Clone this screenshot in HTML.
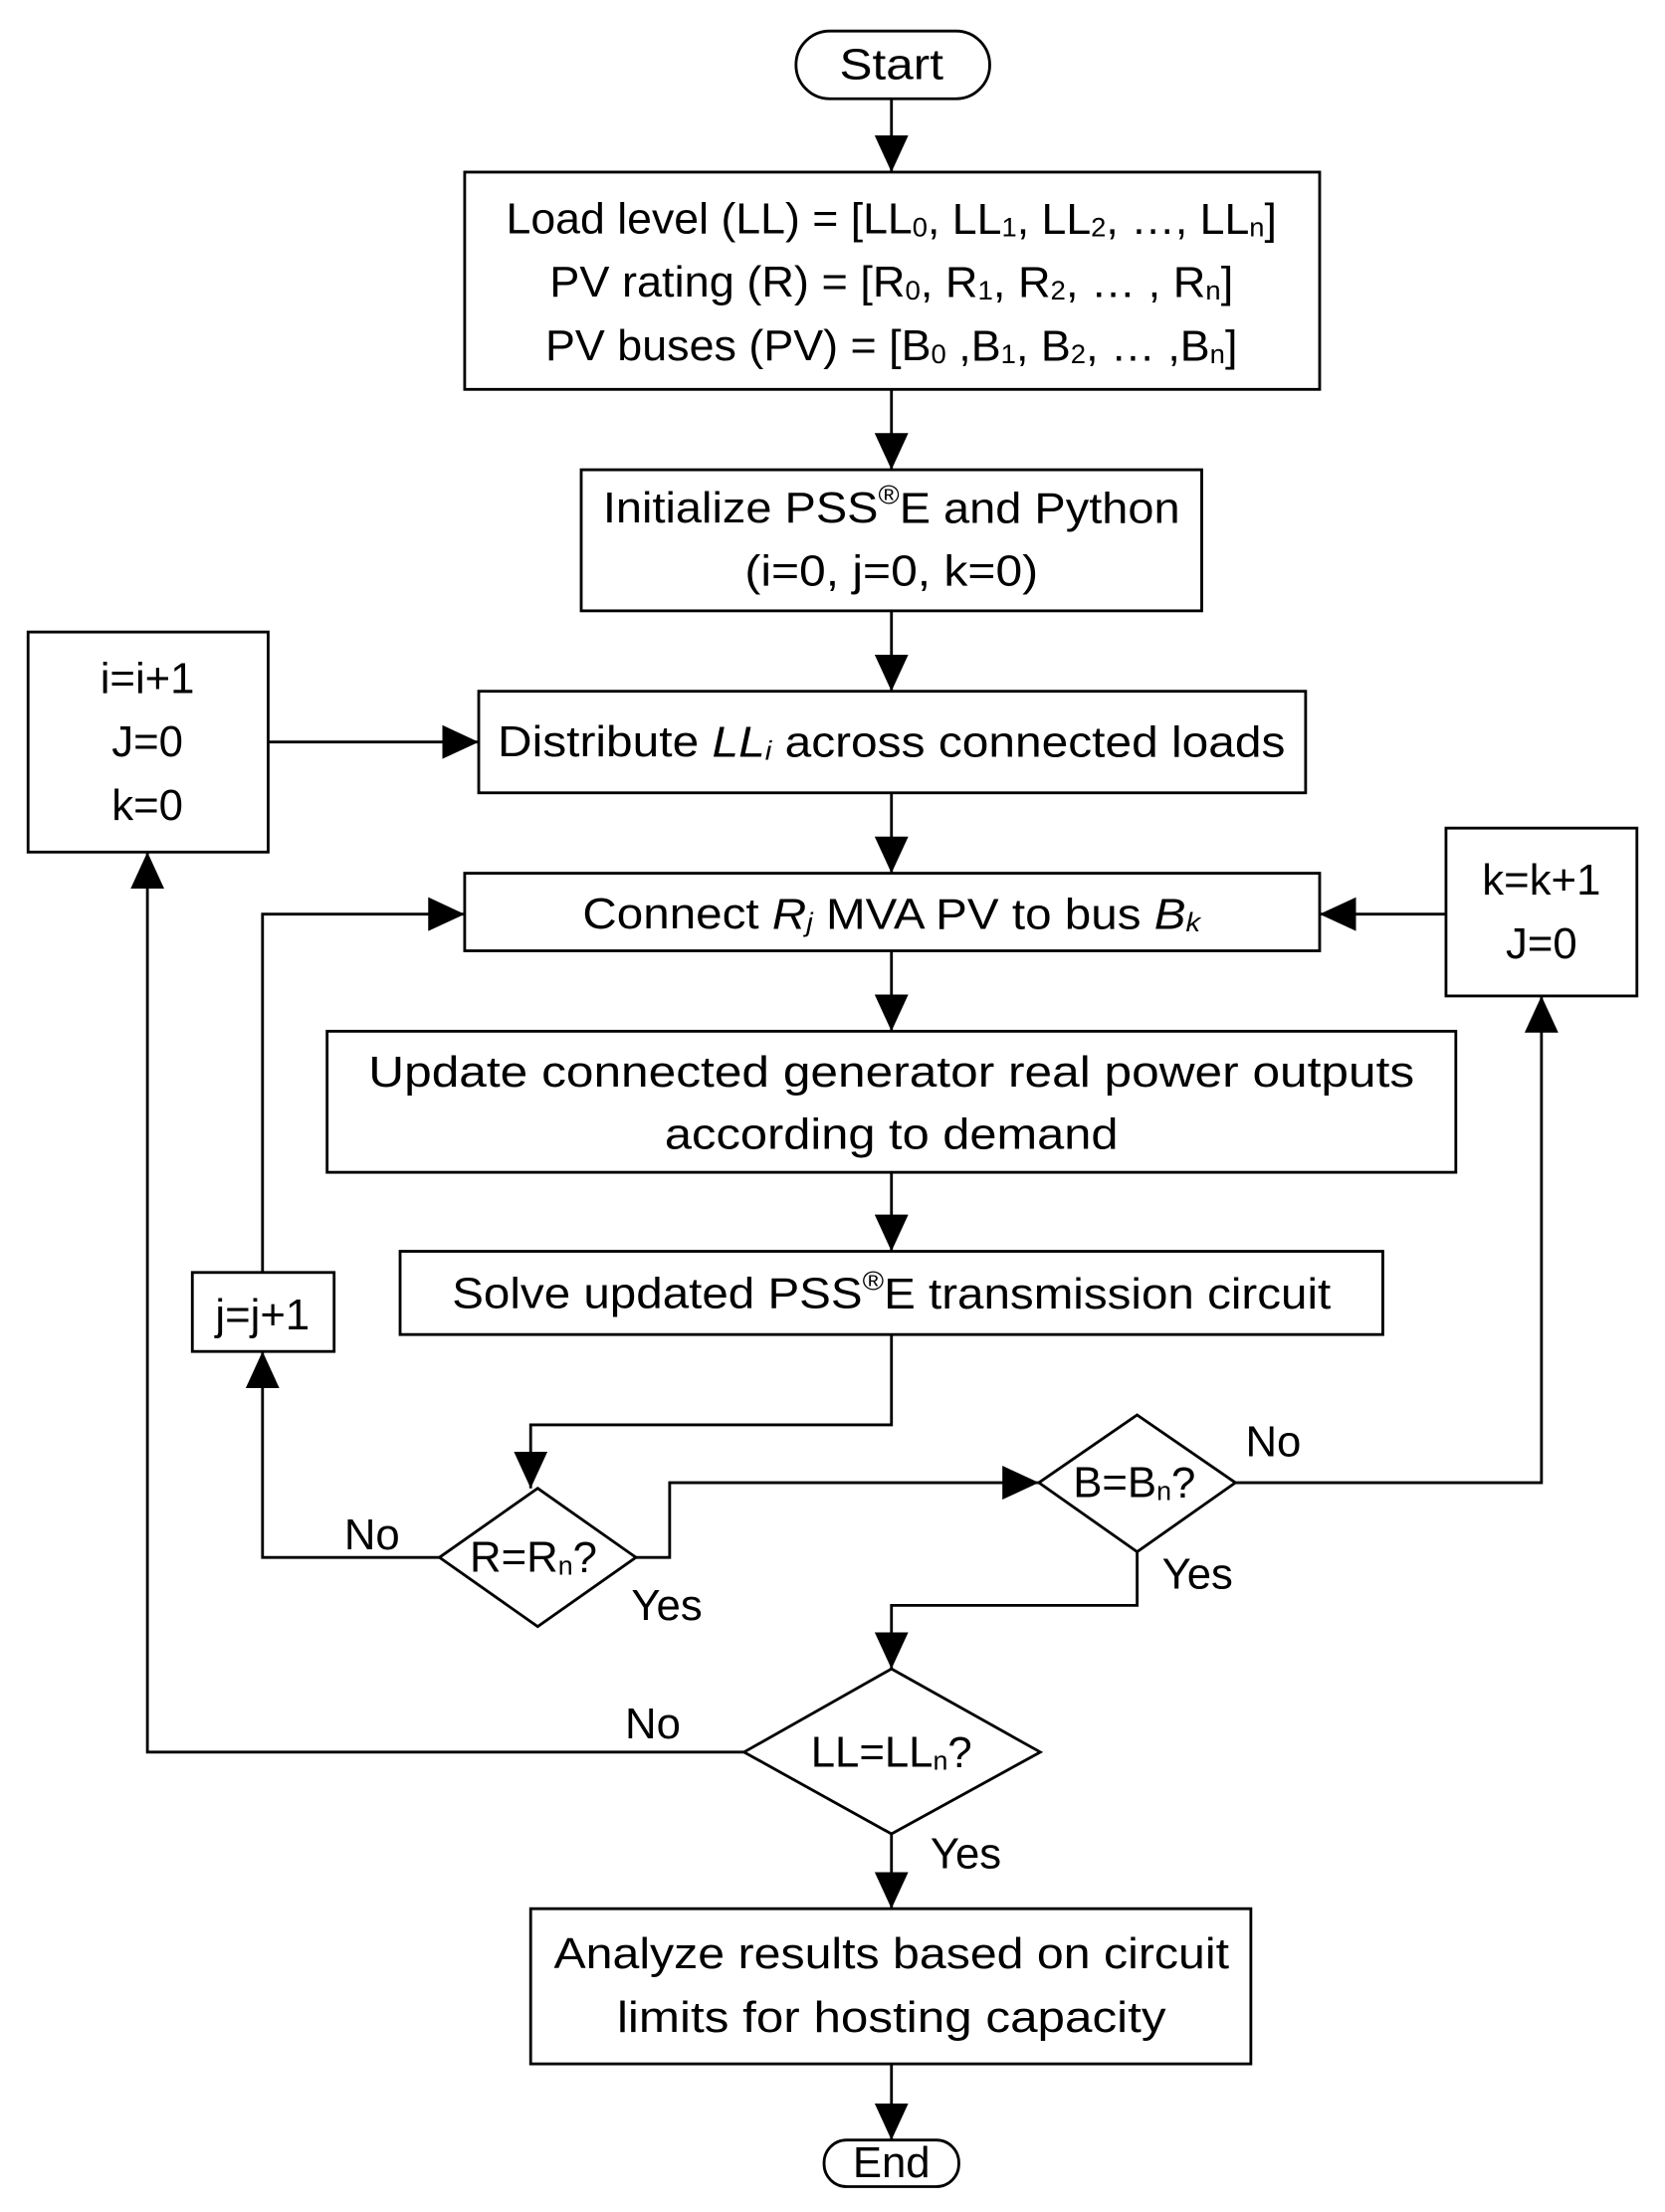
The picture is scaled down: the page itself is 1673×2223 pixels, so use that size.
<!DOCTYPE html>
<html><head><meta charset="utf-8"><style>
html,body{margin:0;padding:0;background:#fff}
svg{display:block}
text{font-family:"Liberation Sans",sans-serif;font-size:31px;fill:#000;text-anchor:middle;dominant-baseline:central}
.s{font-size:19px}
</style></head><body>
<svg width="1673" height="2223" viewBox="0 0 1186 1568" preserveAspectRatio="none" xmlns="http://www.w3.org/2000/svg">
<defs><marker id="a" markerWidth="26" markerHeight="24" refX="26" refY="12" orient="auto" markerUnits="userSpaceOnUse"><path d="M0,0 L26,12 L0,24 z" fill="#000"/></marker></defs>
<g fill="none" stroke="#000" stroke-width="2">
<rect x="567" y="22" width="138" height="48" rx="24"/>
<rect x="331" y="122" width="609" height="154"/>
<rect x="414" y="333" width="442" height="100"/>
<rect x="341" y="490" width="589" height="72"/>
<rect x="20" y="448" width="171" height="156"/>
<rect x="331" y="619" width="609" height="55"/>
<rect x="1030" y="587" width="136" height="119"/>
<rect x="233" y="731" width="804" height="100"/>
<rect x="285" y="887" width="700" height="59"/>
<rect x="137" y="902" width="101" height="56"/>
<polygon points="383,1055 453,1104 383,1153 313,1104"/>
<polygon points="810,1003 880,1051 810,1100 740,1051"/>
<polygon points="635,1183 741,1242 635,1300 530,1242"/>
<rect x="378" y="1353" width="513" height="110"/>
<rect x="587" y="1517" width="96" height="33" rx="16"/>
<g marker-end="url(#a)">
<line x1="635" y1="70" x2="635" y2="122"/>
<line x1="635" y1="276" x2="635" y2="333"/>
<line x1="635" y1="433" x2="635" y2="490"/>
<line x1="191" y1="526" x2="341" y2="526"/>
<line x1="635" y1="562" x2="635" y2="619"/>
<line x1="1030" y1="648" x2="940" y2="648"/>
<line x1="635" y1="674" x2="635" y2="731"/>
<line x1="635" y1="831" x2="635" y2="887"/>
<polyline points="187,902 187,648 331,648"/>
<polyline points="635,946 635,1010 378,1010 378,1055"/>
<polyline points="313,1104 187,1104 187,958"/>
<polyline points="453,1104 477,1104 477,1051 740,1051"/>
<polyline points="880,1051 1098,1051 1098,706"/>
<polyline points="810,1100 810,1138 635,1138 635,1183"/>
<polyline points="530,1242 105,1242 105,604"/>
<line x1="635" y1="1300" x2="635" y2="1353"/>
<line x1="635" y1="1463" x2="635" y2="1517"/>
</g></g>
<text x="635" y="46" textLength="74" lengthAdjust="spacingAndGlyphs">Start</text>
<text x="635" y="155" textLength="549" lengthAdjust="spacingAndGlyphs">Load level (LL) = [LL<tspan class="s" dy="6">0</tspan><tspan dy="-6">, LL</tspan><tspan class="s" dy="6">1</tspan><tspan dy="-6">, LL</tspan><tspan class="s" dy="6">2</tspan><tspan dy="-6">, …, LL</tspan><tspan class="s" dy="6">n</tspan><tspan dy="-6">]</tspan></text>
<text x="635" y="200" textLength="487" lengthAdjust="spacingAndGlyphs">PV rating (R) = [R<tspan class="s" dy="6">0</tspan><tspan dy="-6">, R</tspan><tspan class="s" dy="6">1</tspan><tspan dy="-6">, R</tspan><tspan class="s" dy="6">2</tspan><tspan dy="-6">, … , R</tspan><tspan class="s" dy="6">n</tspan><tspan dy="-6">]</tspan></text>
<text x="635" y="245" textLength="493" lengthAdjust="spacingAndGlyphs">PV buses (PV) = [B<tspan class="s" dy="6">0</tspan><tspan dy="-6"> ,B</tspan><tspan class="s" dy="6">1</tspan><tspan dy="-6">, B</tspan><tspan class="s" dy="6">2</tspan><tspan dy="-6">, … ,B</tspan><tspan class="s" dy="6">n</tspan><tspan dy="-6">]</tspan></text>
<text x="635" y="360" textLength="411" lengthAdjust="spacingAndGlyphs">Initialize PSS<tspan class="s" dy="-9">®</tspan><tspan dy="9">E and Python</tspan></text>
<text x="635" y="405" textLength="209" lengthAdjust="spacingAndGlyphs">(i=0, j=0, k=0)</text>
<text x="635" y="526" textLength="561" lengthAdjust="spacingAndGlyphs">Distribute <tspan font-style="italic">LL</tspan><tspan class="s" font-style="italic" dy="6">i</tspan><tspan dy="-6"> across connected loads</tspan></text>
<text x="105" y="481">i=i+1</text>
<text x="105" y="526">J=0</text>
<text x="105" y="571">k=0</text>
<text x="635" y="648" textLength="440" lengthAdjust="spacingAndGlyphs">Connect <tspan font-style="italic">R</tspan><tspan class="s" font-style="italic" dy="6">j</tspan><tspan dy="-6"> MVA PV to bus </tspan><tspan font-style="italic">B</tspan><tspan class="s" font-style="italic" dy="6">k</tspan></text>
<text x="1098" y="624">k=k+1</text>
<text x="1098" y="669">J=0</text>
<text x="635" y="760" textLength="745" lengthAdjust="spacingAndGlyphs">Update connected generator real power outputs</text>
<text x="635" y="804" textLength="323" lengthAdjust="spacingAndGlyphs">according to demand</text>
<text x="635" y="917" textLength="626" lengthAdjust="spacingAndGlyphs">Solve updated PSS<tspan class="s" dy="-9">®</tspan><tspan dy="9">E transmission circuit</tspan></text>
<text x="187" y="932">j=j+1</text>
<text x="380" y="1104">R=R<tspan class="s" dy="6">n</tspan><tspan dy="-6">?</tspan></text>
<text x="808" y="1051">B=B<tspan class="s" dy="6">n</tspan><tspan dy="-6">?</tspan></text>
<text x="635" y="1242">LL=LL<tspan class="s" dy="6">n</tspan><tspan dy="-6">?</tspan></text>
<text x="265" y="1088">No</text>
<text x="475" y="1138">Yes</text>
<text x="907" y="1022">No</text>
<text x="853" y="1116">Yes</text>
<text x="465" y="1222">No</text>
<text x="688" y="1314">Yes</text>
<text x="635" y="1385" textLength="481" lengthAdjust="spacingAndGlyphs">Analyze results based on circuit</text>
<text x="635" y="1430" textLength="391" lengthAdjust="spacingAndGlyphs">limits for hosting capacity</text>
<text x="635" y="1533">End</text>
</svg>
</body></html>
